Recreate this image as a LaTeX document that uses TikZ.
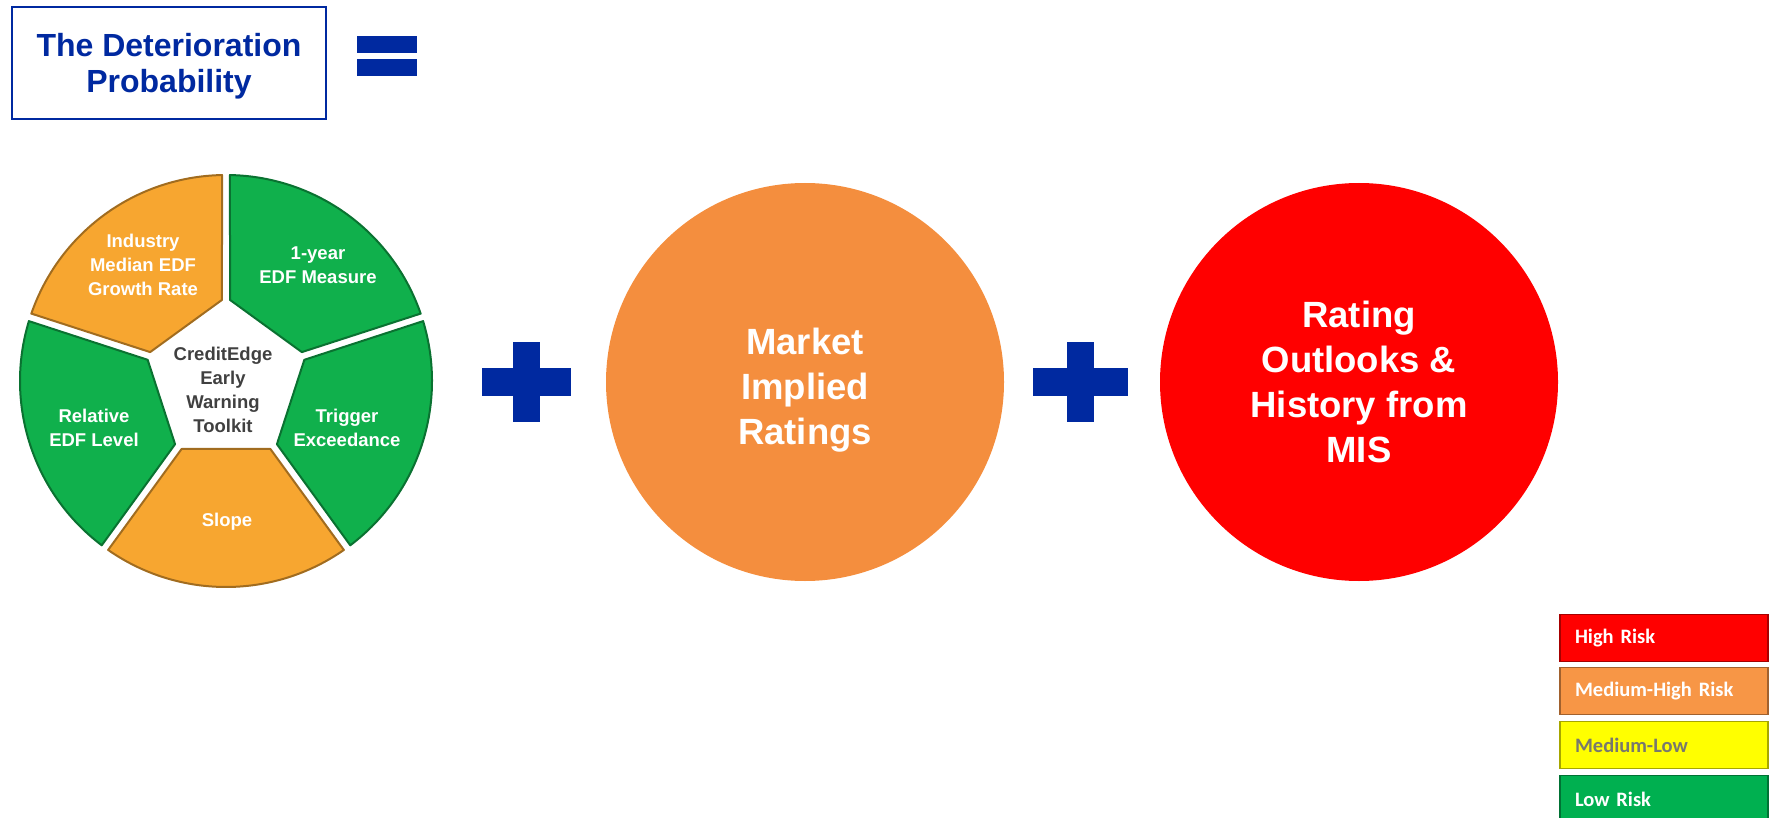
\documentclass[tikz,border=0pt]{standalone}
\usepackage{fontspec}
\setmainfont{Liberation Sans}
\newfontfamily\legendfont{Carlito}
\usetikzlibrary{calc}
\usetikzlibrary{positioning}

\definecolor{mblue}{RGB}{0,41,160}
\definecolor{wgreen}{RGB}{16,176,76}
\definecolor{worange}{RGB}{247,166,48}
\definecolor{corange}{RGB}{244,142,62}
\definecolor{lred}{RGB}{255,0,0}
\definecolor{lorange}{RGB}{247,150,70}
\definecolor{lyellow}{RGB}{255,255,0}
\definecolor{lgreen}{RGB}{0,176,80}
\definecolor{ctext}{RGB}{64,64,64}
\definecolor{ltext}{RGB}{120,120,110}

\tikzset{
  seg/.style={line width=2pt, line join=round},
  segtext/.style={text=white, font=\bfseries\fontsize{18.5}{24}\selectfont, align=center},
  bigcirc/.style={circle, minimum size=398pt, inner sep=0pt, text=white,
    font=\bfseries\fontsize{36.5}{45}\selectfont, align=center},
  legbox/.style={rectangle, text width=178pt, inner xsep=15pt, minimum height=47pt,
    line width=1.5pt, text=white, font=\legendfont\bfseries\fontsize{20.5}{22}\selectfont, align=left},
  titlebox/.style={rectangle, draw=mblue, line width=1.5pt, minimum width=314pt, minimum height=112pt}
}

\begin{document}
\begin{tikzpicture}[x=1pt, y=1pt]
\useasboundingbox (0,0) rectangle (1776,-818);

% title and equals sign
\node[titlebox] (title) at (169,-63) {};
\node[text=mblue, font=\bfseries\fontsize{32}{36}\selectfont, align=center] (titletext) at (169,-66) {The Deterioration\\Probability};
\fill[mblue] (357,-36) rectangle (417,-53);
\fill[mblue] (357,-59) rectangle (417,-76);

% wheel
\coordinate (C) at (226,-381);
\coordinate (p18) at ($(C)+(18:84)$);
\coordinate (p90) at ($(C)+(90:84)$);
\coordinate (p162) at ($(C)+(162:84)$);
\coordinate (p234) at ($(C)+(234:84)$);
\coordinate (p306) at ($(C)+(306:84)$);

\filldraw[seg, fill=wgreen, draw=wgreen!65!black] ($(p18)!5pt!(p90)$) -- ($(C)+(19.1:206)$)
  arc[start angle=19.1, end angle=88.9, radius=206] -- ($(p90)!5pt!(p18)$) -- cycle;
\filldraw[seg, fill=worange, draw=worange!65!black] ($(p90)!5pt!(p162)$) -- ($(C)+(91.1:206)$)
  arc[start angle=91.1, end angle=160.9, radius=206] -- ($(p162)!5pt!(p90)$) -- cycle;
\filldraw[seg, fill=wgreen, draw=wgreen!65!black] ($(p162)!5pt!(p234)$) -- ($(C)+(163.1:206)$)
  arc[start angle=163.1, end angle=232.9, radius=206] -- ($(p234)!5pt!(p162)$) -- cycle;
\filldraw[seg, fill=worange, draw=worange!65!black] ($(p234)!5pt!(p306)$) -- ($(C)+(235.1:206)$)
  arc[start angle=235.1, end angle=304.9, radius=206] -- ($(p306)!5pt!(p234)$) -- cycle;
\filldraw[seg, fill=wgreen, draw=wgreen!65!black] ($(p306)!5pt!(p18)$) -- ($(C)+(307.1:206)$)
  arc[start angle=307.1, end angle=376.9, radius=206] -- ($(p18)!5pt!(p306)$) -- cycle;

\node[segtext] (industry) at (143,-265) {Industry\\Median EDF\\Growth Rate};
\node[segtext] (oneyear) at (318,-265) {1-year\\EDF Measure};
\node[segtext] (trigger) at (347,-428) {Trigger\\Exceedance};
\node[segtext] (slope) at (227,-522) {Slope};
\node[segtext] (relative) at (94,-428) {Relative\\EDF Level};
\node[segtext, text=ctext] (toolkit) at (223,-390) {CreditEdge\\Early\\Warning\\Toolkit};

% plus signs
\fill[mblue] (482,-368) rectangle (571,-396);
\fill[mblue] (513,-342) rectangle (540,-422);
\fill[mblue] (1033,-368) rectangle (1128,-396);
\fill[mblue] (1067,-342) rectangle (1094,-422);

% circles
\node[bigcirc, fill=corange] (mir) at (805,-382) {};
\node[bigcirc, fill=none, text=white] (mirtext) at (805,-390) {Market\\Implied\\Ratings};
\node[bigcirc, fill=lred] (mis) at (1359,-382) {Rating\\Outlooks \&\\History from\\MIS};

% legend
\node[legbox, fill=lred, draw=lred!65!black] (high) at (1664,-638) {High Risk};
\node[legbox, fill=lorange, draw=lorange!65!black] (medhigh) at (1664,-691) {Medium-High Risk};
\node[legbox, fill=lyellow, draw=lyellow!65!black, text=ltext] (medlow) at (1664,-745) {Medium-Low};
\node[legbox, fill=lgreen, draw=lgreen!65!black] (low) at (1664,-799) {Low Risk};

\end{tikzpicture}
\end{document}
